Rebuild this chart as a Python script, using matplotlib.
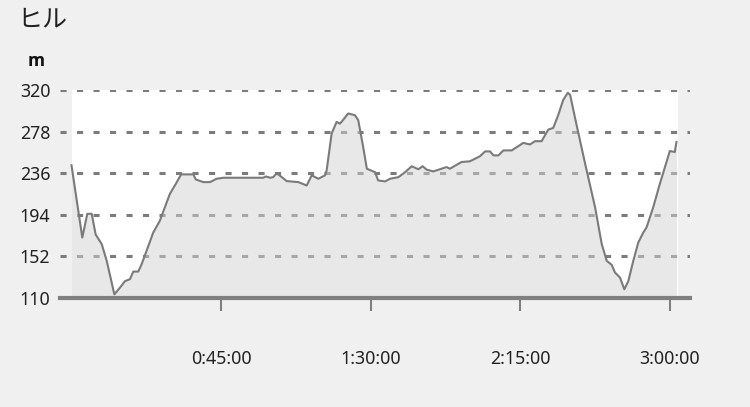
import matplotlib
matplotlib.use("Agg")
import matplotlib.pyplot as plt

plt.rcParams['font.family'] = ['Noto Sans', 'Noto Sans CJK JP', 'DejaVu Sans']

# elapsed time in minutes
time_min = [0, 3.25, 4.76, 6.08, 7.28, 9.09, 10.6, 12.9, 14.6, 16.1, 17.6, 18.6,
            20.1, 21.1, 22.6, 24.6, 26.6, 28.1, 29.6, 31.7, 33.0, 36.7, 37.4,
            39.7, 41.7, 43.7, 45.7, 57.7, 58.5, 59.8, 60.7, 61.8, 63.3, 64.8,
            68.3, 70.8, 72.3, 74.3, 76.3, 76.8, 78.3, 79.8, 80.8, 81.8, 83.3,
            85.3, 86.3, 87.8, 88.9, 91.4, 92.3, 94.4, 95.9, 98.4, 100.4, 102.4,
            104.4, 105.7, 106.9, 108.9, 112.9, 113.9, 117.4, 119.9, 122.9,
            124.5, 126.0, 127.0, 128.5, 130.0, 132.5, 136.0, 138.0, 139.5,
            141.5, 143.5, 145.0, 146.5, 148.0, 149.4, 150.1, 151.6, 154.6,
            157.6, 159.6, 161.1, 162.6, 163.6, 165.1, 166.4, 167.6, 169.1,
            170.6, 172.1, 173.1, 175.1, 177.1, 179.1, 180.1, 181.6, 182.1]
elevation = [244, 171, 195, 195, 174, 164.5, 147.5, 113.7, 120.5, 127, 129, 136.7,
             136.7, 144, 157.7, 176, 188, 201.6, 215, 227, 234.8, 234.8, 229.7,
             227, 227, 230.4, 231.4, 231.4, 232.7, 231.4, 232, 236, 232, 228,
             227, 223.6, 233.8, 230.4, 233.8, 238.8, 276, 287.8, 286, 290, 296.3,
             294.6, 289.6, 262.5, 240.5, 237, 228.7, 227.7, 230.4, 232, 237, 243,
             240, 243, 239.6, 237.8, 242.2, 240.5, 247.3, 248, 253,
             258, 258, 254, 254, 259, 259, 266.6, 265, 268.3,
             268.3, 280, 281.7, 294.6, 309.9, 317.3, 315, 291.3, 245.6,
             201.6, 164.5, 147.5, 143.5, 135.7, 130.6, 118.8, 127, 147.5,
             166, 176, 181.3, 201.6, 225.3, 247.3, 258.4, 257.4, 267.6]

y_ticks = [110, 152, 194, 236, 278, 320]
x_ticks = [45, 90, 135, 180]
x_labels = ['0:45:00', '1:30:00', '2:15:00', '3:00:00']
title = 'ヒル'
unit = 'm'

W, H = 750, 407
fig = plt.figure(figsize=(7.5, 4.07), dpi=100)
fig.patch.set_facecolor('#f0f0f0')

px_per_min = 149.5 / 45.0
x0_px = 71.5
left_px, right_px = 60, 690
ax = fig.add_axes([left_px / W, (H - 298) / H, (right_px - left_px) / W, (298 - 90) / H])
ax.set_facecolor('#f0f0f0')
ax.set_xlim((left_px - x0_px) / px_per_min, (right_px - x0_px) / px_per_min)
ax.set_ylim(110, 320)
t_end = (678 - x0_px) / px_per_min

# white plot area
ax.axvspan(0, t_end, color='white', zorder=0, lw=0)

# gridlines
for v in y_ticks[1:]:
    ax.axhline(v, color='#7c7c7c', lw=2.2, dashes=(2.0, 3.4), zorder=1)

# area + line
ax.fill_between(time_min, elevation, 110, color='#d2d2d2', alpha=0.5, lw=0, zorder=2)
ax.plot(time_min, elevation, color='#7a7a7a', lw=1.5, zorder=3)

for s in ['top', 'right', 'left']:
    ax.spines[s].set_visible(False)
ax.spines['bottom'].set_color('#808080')
ax.spines['bottom'].set_linewidth(3)
ax.spines['bottom'].set_zorder(4)

ax.set_yticks(y_ticks)
ax.set_yticklabels([str(v) for v in y_ticks])
ax.tick_params(axis='y', length=0, pad=7, labelsize=12.8, labelcolor='#222222')
ax.set_xticks(x_ticks)
ax.set_xticklabels(x_labels)
ax.tick_params(axis='x', direction='out', length=9, width=1.5, color='#808080',
               pad=28.5, labelsize=12.8, labelcolor='#222222')

fig.text(17 / W, 1 - 19 / H, title, fontsize=18, ha='left', va='center', color='#222222',
         family=['Noto Sans CJK JP', 'DejaVu Sans'])
fig.text(36.5 / W, 1 - 61 / H, unit, fontsize=12.5, fontweight='bold', ha='center', va='center',
         color='#111111', family=['Open Sans', 'DejaVu Sans'])

fig.savefig('out.png', dpi=100, facecolor=fig.get_facecolor())
